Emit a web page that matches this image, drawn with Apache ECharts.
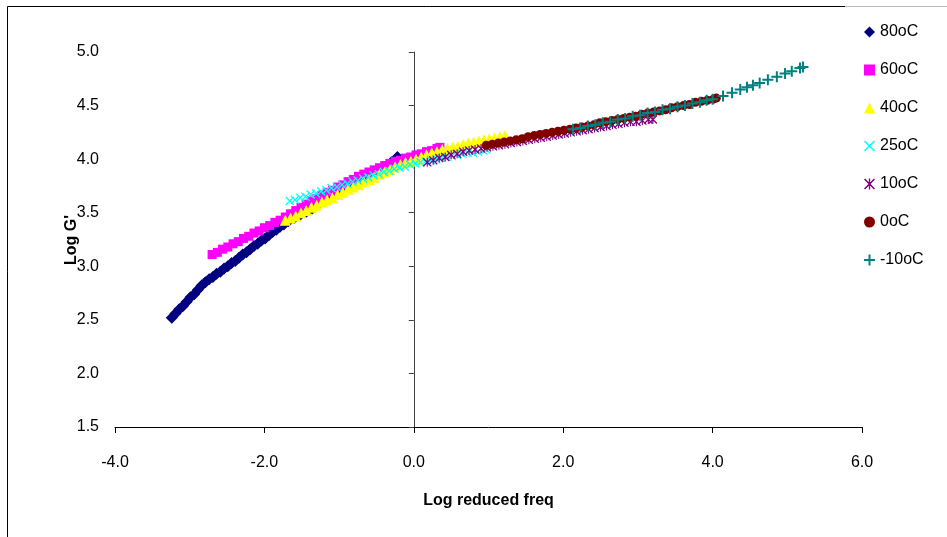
<!DOCTYPE html>
<html>
<head>
<meta charset="utf-8">
<script src="https://cdn.jsdelivr.net/npm/echarts@6/dist/echarts.min.js"></script>
<style>
 html,body{margin:0;padding:0;background:#fff;}
 #main{width:947px;height:537px;}
</style>
</head>
<body>
<div id="main"></div>
<script>
// log reduced freq / log G' pairs
var t80 = [[-3.24,2.52],[-3.19,2.56],[-3.14,2.60],[-3.09,2.63],[-3.04,2.67],[-2.99,2.71],[-2.94,2.74],[-2.89,2.78],
 [-2.84,2.82],[-2.79,2.85],[-2.74,2.88],[-2.69,2.90],[-2.64,2.93],[-2.59,2.95],[-2.54,2.98],[-2.49,3.00],[-2.44,3.03],
 [-2.39,3.05],[-2.34,3.08],[-2.29,3.11],[-2.24,3.13],[-2.19,3.16],[-2.14,3.19],[-2.09,3.21],[-2.04,3.24],[-1.99,3.26],
 [-1.94,3.29],[-1.89,3.32],[-1.84,3.34],[-1.79,3.37],[-1.74,3.39],[-1.68,3.42],[-1.60,3.45],[-1.52,3.48],[-1.44,3.51],
 [-1.36,3.54],[-1.28,3.58],[-1.20,3.61],[-1.10,3.65],[-1.00,3.69],[-0.90,3.73],[-0.80,3.77],[-0.70,3.81],[-0.60,3.85],
 [-0.50,3.89],[-0.40,3.93],[-0.30,3.97],[-0.22,4.02]];
var t60 = [[-2.70,3.11],[-2.63,3.13],[-2.56,3.16],[-2.49,3.18],[-2.42,3.21],[-2.35,3.23],[-2.28,3.26],[-2.21,3.28],
 [-2.14,3.31],[-2.07,3.33],[-2.00,3.36],[-1.93,3.38],[-1.86,3.41],[-1.79,3.43],[-1.72,3.46],[-1.65,3.49],[-1.58,3.52],
 [-1.51,3.55],[-1.44,3.58],[-1.37,3.61],[-1.30,3.63],[-1.23,3.66],[-1.16,3.69],[-1.09,3.71],[-1.02,3.74],[-0.95,3.76],
 [-0.88,3.79],[-0.81,3.81],[-0.74,3.84],[-0.67,3.86],[-0.60,3.88],[-0.53,3.90],[-0.46,3.92],[-0.39,3.94],[-0.32,3.96],
 [-0.25,3.98],[-0.18,3.99],[-0.11,4.01],[-0.04,4.02],[0.03,4.04],[0.10,4.05],[0.17,4.07],[0.24,4.08],[0.31,4.10],[0.35,4.11]];
var t40 = [[-1.72,3.43],[-1.65,3.45],[-1.58,3.47],[-1.51,3.50],[-1.44,3.52],[-1.37,3.55],[-1.30,3.57],[-1.23,3.60],
 [-1.16,3.62],[-1.09,3.64],[-1.02,3.67],[-0.95,3.69],[-0.88,3.72],[-0.81,3.74],[-0.74,3.76],[-0.67,3.79],[-0.60,3.81],
 [-0.53,3.83],[-0.46,3.86],[-0.39,3.88],[-0.32,3.90],[-0.25,3.93],[-0.18,3.95],[-0.11,3.97],[-0.04,3.98],[0.03,4.00],
 [0.10,4.02],[0.17,4.04],[0.24,4.06],[0.31,4.07],[0.38,4.09],[0.45,4.10],[0.52,4.11],[0.59,4.12],[0.66,4.14],[0.73,4.15],
 [0.80,4.16],[0.87,4.17],[0.94,4.18],[1.01,4.19],[1.08,4.20],[1.15,4.21],[1.22,4.22]];
var t25 = [[-1.66,3.61],[-1.59,3.62],[-1.52,3.64],[-1.45,3.65],[-1.38,3.67],[-1.31,3.68],[-1.24,3.70],[-1.17,3.71],
 [-1.10,3.73],[-1.03,3.74],[-0.96,3.76],[-0.89,3.77],[-0.82,3.79],[-0.75,3.80],[-0.68,3.82],[-0.61,3.83],[-0.54,3.85],
 [-0.47,3.86],[-0.40,3.88],[-0.33,3.89],[-0.26,3.91],[-0.19,3.92],[-0.12,3.93],[-0.05,3.95],[0.02,3.96],[0.09,3.97],
 [0.16,3.98],[0.23,3.99],[0.30,4.00],[0.37,4.01],[0.44,4.02],[0.51,4.03],[0.58,4.04],[0.65,4.05],[0.72,4.06],[0.79,4.06],
 [0.86,4.07],[0.93,4.08],[0.97,4.09]];
var t10 = [[0.18,3.97],[0.26,3.99],[0.34,4.01],[0.42,4.02],[0.50,4.04],[0.58,4.05],[0.66,4.07],[0.74,4.08],[0.82,4.09],
 [0.90,4.10],[0.98,4.11],[1.06,4.12],[1.14,4.13],[1.22,4.14],[1.30,4.15],[1.38,4.16],[1.46,4.17],[1.54,4.18],[1.62,4.19],
 [1.70,4.20],[1.78,4.21],[1.86,4.22],[1.94,4.23],[2.02,4.24],[2.10,4.25],[2.18,4.26],[2.26,4.27],[2.34,4.28],[2.42,4.29],
 [2.50,4.30],[2.58,4.31],[2.66,4.32],[2.74,4.33],[2.82,4.34],[2.90,4.35],[2.98,4.35],[3.06,4.36],[3.14,4.37],[3.20,4.37]];
var t0 = [[0.97,4.13],[1.05,4.14],[1.13,4.15],[1.21,4.16],[1.29,4.17],[1.37,4.18],[1.45,4.19],[1.53,4.21],[1.61,4.22],
 [1.69,4.23],[1.77,4.24],[1.85,4.25],[1.93,4.26],[2.01,4.27],[2.09,4.28],[2.17,4.29],[2.25,4.30],[2.33,4.31],[2.41,4.32],
 [2.49,4.34],[2.57,4.35],[2.65,4.36],[2.73,4.37],[2.81,4.38],[2.89,4.39],[2.97,4.40],[3.05,4.42],[3.13,4.43],[3.21,4.44],
 [3.29,4.45],[3.37,4.46],[3.45,4.48],[3.53,4.49],[3.61,4.50],[3.69,4.51],[3.77,4.53],[3.85,4.54],[3.93,4.55],[4.01,4.56],[4.05,4.57]];
var tm10 = [[2.13,4.28],[2.23,4.29],[2.33,4.31],[2.43,4.32],[2.53,4.34],[2.63,4.35],[2.73,4.37],[2.83,4.38],[2.93,4.40],
 [3.03,4.41],[3.13,4.43],[3.23,4.44],[3.33,4.46],[3.43,4.47],[3.53,4.49],[3.63,4.50],[3.73,4.52],[3.83,4.53],[3.92,4.55],
 [4.00,4.56],[4.14,4.59],[4.26,4.62],[4.37,4.65],[4.46,4.67],[4.54,4.69],[4.63,4.71],[4.74,4.74],[4.86,4.77],[4.97,4.80],
 [5.06,4.82],[5.17,4.85],[5.21,4.86]];

var names = ['80oC', '60oC', '40oC', '25oC', '10oC', '0oC', '-10oC'];
var xTicks = [-4, -2, 0, 2, 4, 6];

var chart = echarts.init(document.getElementById('main'));

var symX = 'path://M1,0L5,4L9,0L10,1L6,5L10,9L9,10L5,6L1,10L0,9L4,5L0,1Z';
var symStar = 'path://M1,0L5,4L9,0L10,1L6,5L10,9L9,10L5,6L1,10L0,9L4,5L0,1ZM4.4,0h1.2v10h-1.2z';
var symPlus = 'path://M4.1,0h1.8v4.1h4.1v1.8h-4.1v4.1h-1.8v-4.1h-4.1v-1.8h4.1z';

function sc(name, data, color, symbol, size) {
    return {
        name: name,
        type: 'scatter',
        data: data,
        symbol: symbol,
        symbolSize: size,
        itemStyle: { color: color, opacity: 1 },
        emphasis: { disabled: true }
    };
}

var font = 'Arial, "Liberation Sans", sans-serif';

var option = {
    animation: false,
    backgroundColor: '#fff',
    grid: { left: 115, right: 85, top: 52, bottom: 110, containLabel: false, outerBoundsMode: 'none' },
    legend: {
        orient: 'vertical',
        left: 859,
        top: 18,
        itemWidth: 11,
        itemHeight: 11,
        itemGap: 20,
        textStyle: { fontFamily: font, fontSize: 16, color: '#000', lineHeight: 18 },
        data: names
    },
    xAxis: {
        type: 'value',
        min: xTicks[0],
        max: xTicks[xTicks.length - 1],
        interval: 2,
        name: 'Log reduced freq',
        nameLocation: 'middle',
        nameGap: 66,
        nameTextStyle: { fontFamily: font, fontSize: 16, fontWeight: 'bold', color: '#000' },
        axisLine: { onZero: false, lineStyle: { color: '#000', width: 1 } },
        axisTick: { length: 6, lineStyle: { color: '#000' } },
        axisLabel: { margin: 28, fontFamily: font, fontSize: 16, color: '#000',
            formatter: function (v) { return v.toFixed(1); } },
        splitLine: { show: false }
    },
    yAxis: {
        type: 'value',
        min: 1.5,
        max: 5.0,
        interval: 0.5,
        axisLine: { onZero: true, lineStyle: { color: '#404040', width: 1 } },
        axisTick: { length: 5, lineStyle: { color: '#404040' } },
        axisLabel: { margin: 16, fontFamily: font, fontSize: 16, color: '#000',
            formatter: function (v) { return v.toFixed(1); } },
        splitLine: { show: false }
    },
    graphic: [
        { type: 'line', shape: { x1: 7.5, y1: 6.5, x2: 845, y2: 6.5 }, style: { stroke: '#000', lineWidth: 1 } },
        { type: 'line', shape: { x1: 845, y1: 6.5, x2: 947, y2: 6.5 }, style: { stroke: '#bbb', lineWidth: 1 } },
        { type: 'line', shape: { x1: 7.5, y1: 6.5, x2: 7.5, y2: 537 }, style: { stroke: '#000', lineWidth: 1 } },
        // y axis title
        { type: 'text', x: 72, y: 240, rotation: Math.PI / 2,
          style: { text: "Log G'", fontFamily: font, fontSize: 16, fontWeight: 'bold', fill: '#000',
                   align: 'center', verticalAlign: 'middle' } }
    ],
    series: [
        sc(names[0], t80, '#000080', 'diamond', 12),
        sc(names[1], t60, '#FF00FF', 'rect', 9),
        sc(names[2], t40, '#FFFF00', 'triangle', 11),
        sc(names[3], t25, '#00FFFF', symX, 9),
        sc(names[4], t10, '#800080', symStar, 9),
        sc(names[5], t0, '#800000', 'circle', 9),
        sc(names[6], tm10, '#008080', symPlus, 11)
    ]
};

chart.setOption(option);
</script>
</body>
</html>
